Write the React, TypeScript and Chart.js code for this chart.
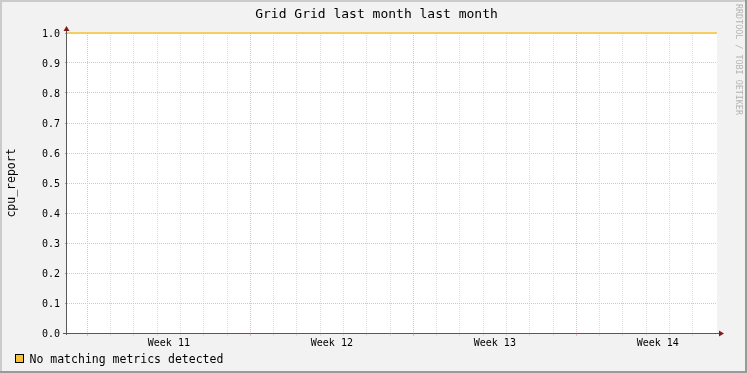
import React, { useEffect, useRef } from 'react';
import { Chart, registerables } from 'chart.js';

Chart.register(...registerables);

const TITLE = 'Grid Grid last month last month';
const Y_LABEL = 'cpu_report';
const WATERMARK = 'RRDTOOL / TOBI OETIKER';
const LEGEND_LABEL = 'No matching metrics detected';

// x is measured in hours from the left edge of the graph
const rangeHours = [0, 670];
const seriesHours = [0, 670];
const seriesValues = [1.0, 1.0];
const weekNumbers = [11, 12, 13, 14];
const weekStartHours = [21, 189, 357, 525];
const yMin = 0;
const yMax = 1;
const yStep = 0.1;

const MONO = "'DejaVu Sans Mono', monospace";
const W = 747;
const H = 373;
const BG = '#f2f2f2';
const SHADE_A = '#cbcbcb';
const SHADE_B = '#9a9a9a';
const MINOR = '#dddddd';
const MAJOR = '#ecbcbc';
const AXIS = '#5a5a5a';
const ARROW = '#7f1d1d';
const LINE_COLOR = '#f7c333';

const weekLabelAt = new Map<number, string>();
weekStartHours.forEach((h, i) => weekLabelAt.set(h + 84, `Week ${weekNumbers[i]}`));
const weekStarts = new Set(weekStartHours);

const framePlugin = {
  id: 'rrdFrame',
  beforeDraw(chart: any) {
    const ctx = chart.ctx;
    const a = chart.chartArea;
    ctx.save();
    ctx.fillStyle = BG;
    ctx.fillRect(0, 0, W, H);
    ctx.fillStyle = SHADE_A;
    ctx.fillRect(0, 0, W, 2);
    ctx.fillRect(0, 0, 2, H);
    ctx.fillStyle = SHADE_B;
    ctx.fillRect(0, H - 2, W, 2);
    ctx.fillRect(W - 2, 0, 2, H);
    ctx.fillStyle = '#ffffff';
    ctx.fillRect(a.left, a.top, a.right - a.left, a.bottom - a.top);
    ctx.restore();
  },
  afterDraw(chart: any) {
    const ctx = chart.ctx;
    const a = chart.chartArea;
    ctx.save();
    // axes
    ctx.strokeStyle = AXIS;
    ctx.lineWidth = 1;
    ctx.beginPath();
    ctx.moveTo(a.left - 0.5, a.bottom + 2);
    ctx.lineTo(a.left - 0.5, a.top - 3);
    ctx.moveTo(a.left - 4, a.bottom + 0.5);
    ctx.lineTo(a.right + 3, a.bottom + 0.5);
    ctx.stroke();
    // arrows
    ctx.fillStyle = ARROW;
    ctx.beginPath();
    ctx.moveTo(a.left - 0.5, a.top - 7);
    ctx.lineTo(a.left - 3.5, a.top - 2);
    ctx.lineTo(a.left + 2.5, a.top - 2);
    ctx.closePath();
    ctx.fill();
    ctx.beginPath();
    ctx.moveTo(a.right + 7, a.bottom + 0.5);
    ctx.lineTo(a.right + 2, a.bottom - 2.5);
    ctx.lineTo(a.right + 2, a.bottom + 3.5);
    ctx.closePath();
    ctx.fill();
    // title
    ctx.fillStyle = '#000';
    ctx.font = `13px ${MONO}`;
    ctx.textAlign = 'center';
    ctx.textBaseline = 'alphabetic';
    ctx.fillText(TITLE, 376.5, 18);
    // legend
    ctx.fillStyle = LINE_COLOR;
    ctx.fillRect(15, 354, 8, 9);
    ctx.strokeStyle = '#000';
    ctx.strokeRect(15.5, 354.5, 8, 8);
    ctx.fillStyle = '#000';
    ctx.font = `11.5px ${MONO}`;
    ctx.textAlign = 'left';
    ctx.fillText(LEGEND_LABEL, 29.5, 363);
    // watermark
    ctx.translate(738, 4);
    ctx.rotate(Math.PI / 2);
    ctx.fillStyle = '#b4b4b4';
    ctx.font = `8.4px ${MONO}`;
    ctx.textAlign = 'left';
    ctx.textBaseline = 'middle';
    ctx.fillText(WATERMARK, 0, 0);
    ctx.restore();
  },
};

export default function App() {
  const ref = useRef<HTMLCanvasElement | null>(null);

  useEffect(() => {
    document.body.style.margin = '0';
    document.body.style.overflow = 'hidden';
    const canvas = ref.current;
    if (!canvas) return;
    const chart = new Chart(canvas, {
      type: 'line',
      data: {
        datasets: [
          {
            label: LEGEND_LABEL,
            data: seriesHours.map((x, i) => ({ x, y: seriesValues[i] })),
            borderColor: LINE_COLOR,
            backgroundColor: LINE_COLOR,
            borderWidth: 1.5,
            pointRadius: 0,
            clip: false as any,
          },
        ],
      },
      options: {
        responsive: false,
        animation: false,
        devicePixelRatio: 1,
        layout: { padding: { left: 0, top: 33, right: 30, bottom: 0 } },
        plugins: {
          legend: { display: false },
          title: { display: false },
          tooltip: { enabled: false },
        },
        scales: {
          x: {
            type: 'linear',
            position: 'bottom',
            min: rangeHours[0],
            max: rangeHours[1],
            bounds: 'data',
            afterBuildTicks: (scale: any) => {
              const t: number[] = [];
              weekStartHours.forEach((w) => {
                for (let d = 0; d < 7; d++) {
                  const v = w + 24 * d;
                  if (v < rangeHours[1] - 2) t.push(v);
                }
                t.push(w + 84);
              });
              t.sort((p, q) => p - q);
              scale.ticks = t.map((value) => ({ value }));
            },
            afterFit: (scale: any) => {
              scale.height = 40;
            },
            ticks: {
              autoSkip: false,
              maxRotation: 0,
              minRotation: 0,
              padding: 1,
              color: '#000',
              font: { family: MONO, size: 10 },
              callback: (value: any) => weekLabelAt.get(Number(value)) ?? '',
            },
            grid: {
              color: (c: any) => {
                const v = c.tick ? c.tick.value : -1;
                if (weekLabelAt.has(v)) return 'rgba(0,0,0,0)';
                return weekStarts.has(v) ? MAJOR : MINOR;
              },
              lineWidth: 1,
              tickLength: 3,
            },
            border: { display: false, dash: [1, 1] },
          },
          y: {
            type: 'linear',
            min: yMin,
            max: yMax,
            afterFit: (scale: any) => {
              scale.width = 67;
            },
            ticks: {
              stepSize: yStep,
              padding: 5,
              labelOffset: 1,
              color: '#000',
              font: { family: MONO, size: 10 },
              callback: (value: any) => Number(value).toFixed(1),
            },
            grid: {
              color: MAJOR,
              tickColor: '#999',
              lineWidth: 1,
              tickLength: 2,
            },
            border: { display: false, dash: [1, 1] },
            title: {
              display: true,
              text: Y_LABEL,
              color: '#000',
              font: { family: MONO, size: 11.5 },
              padding: { top: 5, bottom: 0 },
            },
          },
        },
      },
      plugins: [framePlugin],
    });
    return () => chart.destroy();
  }, []);

  return <canvas ref={ref} width={W} height={H} style={{ display: 'block' }} />;
}
